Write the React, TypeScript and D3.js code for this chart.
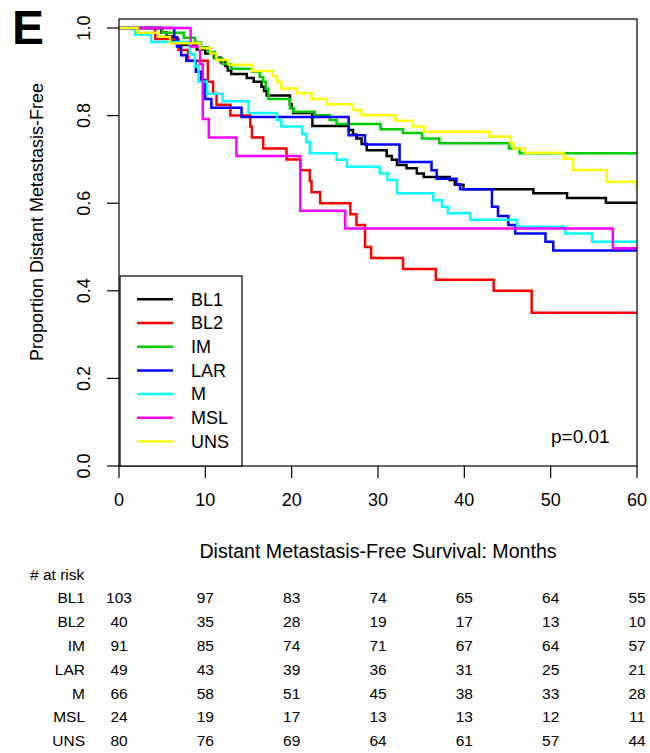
import * as d3 from "d3";

// Kaplan-Meier curves (months, proportion free)
const bl1Time = [4.9, 5.5, 6.1, 6.7, 9.0, 10.0, 11.0, 11.8, 12.3, 12.6, 13.0, 14.8, 15.6, 16.5, 16.8, 17.1, 19.8, 20.0, 20.2, 22.4, 26.6, 27.1, 27.5, 28.1, 28.7, 31.0, 31.6, 32.2, 33.3, 34.5, 35.3, 38.3, 38.9, 39.9, 48.0, 51.9, 56.4];
const bl1Surv = [0.99, 0.981, 0.971, 0.961, 0.951, 0.942, 0.932, 0.922, 0.913, 0.903, 0.895, 0.886, 0.877, 0.866, 0.856, 0.846, 0.826, 0.817, 0.806, 0.776, 0.767, 0.757, 0.748, 0.735, 0.721, 0.708, 0.699, 0.687, 0.68, 0.668, 0.66, 0.653, 0.642, 0.632, 0.623, 0.612, 0.601];

const bl2Time = [4.2, 6.9, 8.0, 10.3, 10.9, 11.3, 12.9, 15.2, 15.4, 16.7, 19.4, 21.0, 22.1, 22.3, 23.3, 26.8, 27.5, 28.5, 29.2, 32.9, 36.7, 43.4, 47.8];
const bl2Surv = [0.975, 0.95, 0.925, 0.877, 0.85, 0.825, 0.8, 0.775, 0.75, 0.725, 0.7, 0.675, 0.65, 0.625, 0.6, 0.575, 0.55, 0.5, 0.475, 0.45, 0.425, 0.4, 0.35];

const imTime = [5.0, 7.5, 8.8, 9.5, 10.3, 11.1, 12.0, 13.0, 15.4, 16.3, 16.7, 17.0, 17.3, 19.8, 20.2, 22.7, 24.4, 25.2, 30.3, 32.9, 35.1, 37.1, 45.2, 46.4];
const imSurv = [0.989, 0.978, 0.967, 0.956, 0.945, 0.93, 0.918, 0.907, 0.9, 0.888, 0.877, 0.862, 0.838, 0.817, 0.809, 0.801, 0.79, 0.781, 0.769, 0.76, 0.748, 0.737, 0.725, 0.714];

const larTime = [6.4, 6.75, 7.2, 7.8, 8.9, 9.5, 10.0, 10.7, 14.2, 26.6, 28.5, 32.5, 36.2, 36.8, 39.1, 39.5, 43.2, 43.9, 45.1, 45.9, 49.4, 50.3];
const larSurv = [0.979, 0.958, 0.938, 0.925, 0.9, 0.881, 0.838, 0.818, 0.797, 0.755, 0.734, 0.694, 0.675, 0.656, 0.643, 0.632, 0.592, 0.571, 0.55, 0.531, 0.512, 0.492];

const mTime = [1.85, 3.7, 8.2, 8.8, 9.2, 10.2, 12.0, 15.0, 18.3, 18.8, 21.2, 21.7, 22.1, 25.2, 26.4, 30.2, 31.1, 32.2, 36.4, 37.4, 38.1, 40.7, 46.1, 51.7, 54.8];
const mSurv = [0.985, 0.968, 0.94, 0.912, 0.877, 0.85, 0.833, 0.806, 0.79, 0.775, 0.758, 0.74, 0.714, 0.699, 0.683, 0.668, 0.653, 0.623, 0.607, 0.592, 0.577, 0.562, 0.546, 0.531, 0.512];

const mslTime = [8.3, 9.4, 9.7, 10.4, 13.6, 21.0, 26.2, 57.2];
const mslSurv = [0.958, 0.917, 0.792, 0.75, 0.708, 0.583, 0.542, 0.497];

const unsTime = [2.16, 4.55, 5.9, 9.4, 10.6, 11.3, 12.7, 15.4, 17.8, 18.3, 18.8, 20.6, 22.3, 24.0, 27.1, 28.1, 32.0, 34.0, 35.3, 42.9, 45.3, 45.7, 47.0, 51.5, 52.6, 56.5, 59.9];
const unsSurv = [0.989, 0.98, 0.965, 0.954, 0.942, 0.927, 0.916, 0.902, 0.89, 0.877, 0.862, 0.851, 0.838, 0.826, 0.813, 0.801, 0.788, 0.775, 0.763, 0.752, 0.737, 0.725, 0.715, 0.702, 0.676, 0.649, 0.634];

const subtypes = ["BL1", "BL2", "IM", "LAR", "M", "MSL", "UNS"];
const colors = ["#000000", "#ff0000", "#00cd00", "#0000ff", "#00ffff", "#ff00ff", "#ffff00"];
const times = [bl1Time, bl2Time, imTime, larTime, mTime, mslTime, unsTime];
const survs = [bl1Surv, bl2Surv, imSurv, larSurv, mSurv, mslSurv, unsSurv];

// number at risk table
const riskMonths = [0, 10, 20, 30, 40, 50, 60];
const riskBL1 = [103, 97, 83, 74, 65, 64, 55];
const riskBL2 = [40, 35, 28, 19, 17, 13, 10];
const riskIM = [91, 85, 74, 71, 67, 64, 57];
const riskLAR = [49, 43, 39, 36, 31, 25, 21];
const riskM = [66, 58, 51, 45, 38, 33, 28];
const riskMSL = [24, 19, 17, 13, 13, 12, 11];
const riskUNS = [80, 76, 69, 64, 61, 57, 44];
const atRisk = [riskBL1, riskBL2, riskIM, riskLAR, riskM, riskMSL, riskUNS];

const yTicks = [0, 0.2, 0.4, 0.6, 0.8, 1.0];
const xTicks = [0, 10, 20, 30, 40, 50, 60];

const font = "Liberation Sans, Arial, sans-serif";

export default function App() {
  const width = 650;
  const height = 753;
  const x = d3.scaleLinear([0, 60], [119, 637]);
  const y = d3.scaleLinear([0, 1], [466, 28]);
  const top = 19;

  const line = d3
    .line<[number, number]>()
    .x((d) => x(d[0]))
    .y((d) => y(d[1]))
    .curve(d3.curveStepAfter);

  const curves = subtypes.map((s, i) => {
    const pts: [number, number][] = [[0, 1]];
    times[i].forEach((t, j) => pts.push([t, survs[i][j]]));
    pts.push([60, survs[i][survs[i].length - 1]]);
    return pts;
  });

  const legX = 120;
  const legTop = 276;
  const legRow = (i: number) => 299.3 + i * 23.7;
  const riskRow = (i: number) => 598 + i * 23.8;

  return (
    <svg
      width={width}
      height={height}
      style={{ position: "absolute", left: 0, top: 0, background: "#fff" }}
      fontFamily={font}
    >
      <text x={12} y={43.5} fontSize={48} fontWeight="bold">
        E
      </text>

      {curves.map((pts, i) => (
        <path
          key={subtypes[i]}
          d={line(pts) || ""}
          fill="none"
          stroke={colors[i]}
          strokeWidth={2.5}
        />
      ))}

      {/* frame */}
      <rect
        x={x(0)}
        y={top}
        width={x(60) - x(0)}
        height={y(0) - top}
        fill="none"
        stroke="#000"
        strokeWidth={1.2}
      />

      {/* y axis */}
      {yTicks.map((t) => (
        <g key={t}>
          <line x1={x(0) - 12} x2={x(0)} y1={y(t)} y2={y(t)} stroke="#000" strokeWidth={1.2} />
          <text
            transform={`translate(${84},${y(t)}) rotate(-90)`}
            textAnchor="middle"
            dy="0.35em"
            fontSize={18}
          >
            {d3.format(".1f")(t)}
          </text>
        </g>
      ))}
      <text
        transform={`translate(37,222) rotate(-90)`}
        textAnchor="middle"
        dy="0.35em"
        fontSize={18}
      >
        Proportion Distant Metastasis-Free
      </text>

      {/* x axis */}
      {xTicks.map((t) => (
        <g key={t}>
          <line x1={x(t)} x2={x(t)} y1={y(0)} y2={y(0) + 12} stroke="#000" strokeWidth={1.2} />
          <text x={x(t)} y={500} textAnchor="middle" dy="0.35em" fontSize={18}>
            {t}
          </text>
        </g>
      ))}
      <text x={(x(0) + x(60)) / 2} y={551} textAnchor="middle" dy="0.35em" fontSize={19.6}>
        Distant Metastasis-Free Survival: Months
      </text>

      {/* legend */}
      <rect
        x={legX}
        y={legTop}
        width={242 - legX}
        height={y(0) - legTop}
        fill="#fff"
        stroke="#000"
        strokeWidth={1.2}
      />
      {subtypes.map((s, i) => (
        <g key={s}>
          <line x1={137} x2={173} y1={legRow(i)} y2={legRow(i)} stroke={colors[i]} strokeWidth={2.5} />
          <text x={191} y={legRow(i)} dy="0.35em" fontSize={18}>
            {s}
          </text>
        </g>
      ))}

      <text x={551} y={443} fontSize={19}>
        p=0.01
      </text>

      {/* number at risk */}
      <text x={30} y={575} dy="0.35em" fontSize={15.5}>
        # at risk
      </text>
      {subtypes.map((s, i) => (
        <g key={s}>
          <text x={85} y={riskRow(i)} dy="0.35em" textAnchor="end" fontSize={15.5}>
            {s}
          </text>
          {riskMonths.map((m, j) => (
            <text key={m} x={x(m)} y={riskRow(i)} dy="0.35em" textAnchor="middle" fontSize={15.5}>
              {atRisk[i][j]}
            </text>
          ))}
        </g>
      ))}
    </svg>
  );
}
